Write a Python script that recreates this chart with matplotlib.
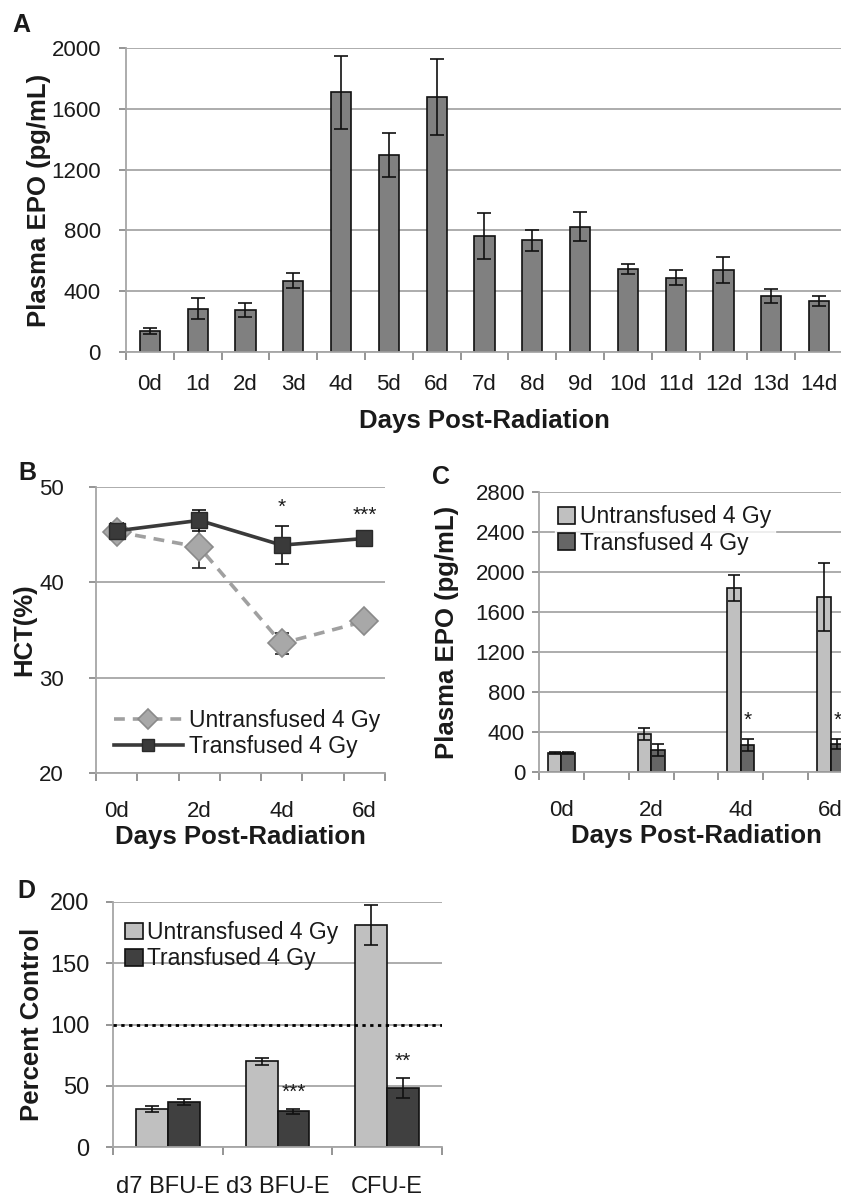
import numpy as np
import matplotlib
matplotlib.use("Agg")
import matplotlib.pyplot as plt
import matplotlib.transforms as mtransforms

plt.rcParams['font.family'] = ['Liberation Sans', 'DejaVu Sans']
plt.rcParams['text.color'] = '#1a1a1a'
plt.rcParams['axes.labelcolor'] = '#1a1a1a'
plt.rcParams['xtick.color'] = '#8c8c8c'
plt.rcParams['ytick.color'] = '#8c8c8c'
plt.rcParams['xtick.labelcolor'] = '#1a1a1a'
plt.rcParams['ytick.labelcolor'] = '#1a1a1a'

# ---- data ----
# A: plasma EPO over 14 days
days_a = ['0d', '1d', '2d', '3d', '4d', '5d', '6d', '7d', '8d', '9d',
          '10d', '11d', '12d', '13d', '14d']
epo_a = [140, 285, 275, 470, 1710, 1295, 1680, 765, 735, 825, 545, 490, 540, 370, 335]
epo_a_err = [20, 70, 45, 50, 240, 145, 250, 150, 70, 95, 35, 50, 85, 45, 35]

# B: hematocrit
days_b = [0, 2, 4, 6]
days_b_labels = ['0d', '2d', '4d', '6d']
hct_untrans = [45.3, 43.7, 33.6, 35.9]
hct_untrans_err = [0.3, 2.2, 1.1, 0.4]
hct_trans = [45.4, 46.5, 43.9, 44.6]
hct_trans_err = [0.8, 1.1, 2.0, 0.4]
hct_stars = {4: '*', 6: '***'}

# C: plasma EPO, transfused vs untransfused
days_c = [0, 2, 4, 6]
days_c_labels = ['0d', '2d', '4d', '6d']
epo_c_untrans = [190, 380, 1845, 1755]
epo_c_untrans_err = [8, 60, 130, 340]
epo_c_trans = [190, 225, 275, 285]
epo_c_trans_err = [8, 60, 60, 50]
epo_c_stars = {4: '*', 6: '*'}

# D: progenitor colonies
cats_d = ['d7 BFU-E', 'd3 BFU-E', 'CFU-E']
pct_untrans = [31, 70, 181]
pct_untrans_err = [2.5, 3, 16.5]
pct_trans = [36.5, 29, 48]
pct_trans_err = [2.5, 2, 8]
pct_stars = {1: '***', 2: '**'}

W, H = 841, 1197
fig = plt.figure(figsize=(W / 100, H / 100), dpi=100)

GRID = '#a6a6a6'
LIGHT = '#c0c0c0'
EBAR = dict(ecolor='#111111', elinewidth=1.2, capsize=5, capthick=1.2)


def px_axes(left, top, right, bottom):
    return fig.add_axes([left / W, 1 - bottom / H, (right - left) / W, (bottom - top) / H])


def style_axes(ax, nslots, xpad, ypad, fs):
    for s in ['top', 'right']:
        ax.spines[s].set_visible(False)
    for s in ['left', 'bottom']:
        ax.spines[s].set_color(GRID)
        ax.spines[s].set_linewidth(1.3)
    ax.yaxis.grid(True, color=GRID, linewidth=1.3)
    ax.set_axisbelow(True)
    ax.set_xlim(-0.5, nslots - 0.5)
    ax.set_xticks(np.arange(nslots + 1) - 0.5, minor=True)
    ax.tick_params(axis='x', which='minor', length=6, width=1.3, direction='out')
    ax.tick_params(axis='x', which='major', length=0, pad=xpad, labelsize=fs)
    ax.tick_params(axis='y', length=5, width=1.3, direction='out', pad=ypad, labelsize=fs)


def place_ylabel(ax, x_px):
    tr = mtransforms.blended_transform_factory(fig.transFigure, ax.transAxes)
    ax.yaxis.label.set_va('center')
    ax.yaxis.set_label_coords(x_px / W, 0.5, transform=tr)


# ---- panel A ----
axa = px_axes(126, 48, 843, 352)
xa = np.arange(len(days_a))
axa.bar(xa, epo_a, width=0.42, color='#808080', edgecolor='#111111', linewidth=1.2,
        yerr=epo_a_err, error_kw=EBAR, zorder=2)
style_axes(axa, len(days_a), xpad=16, ypad=13, fs=16)
axa.set_ylim(0, 2000)
axa.set_yticks([0, 400, 800, 1200, 1600, 2000])
axa.set_xticks(xa)
axa.set_xticklabels(days_a)
axa.set_xlabel('Days Post-Radiation', fontsize=18.5, fontweight='bold', labelpad=10)
axa.set_ylabel('Plasma EPO (pg/mL)', fontsize=18.5, fontweight='bold')
place_ylabel(axa, 39)

# ---- panel B ----
axb = px_axes(96, 487, 385, 773)
style_axes(axb, 7, xpad=20, ypad=18, fs=16)
axb.set_ylim(20, 50)
axb.set_yticks([20, 30, 40, 50])
axb.errorbar(days_b, hct_untrans, yerr=hct_untrans_err, fmt='none', ecolor='#222222',
             elinewidth=1.2, capsize=5, capthick=1.2, zorder=2)
axb.errorbar(days_b, hct_trans, yerr=hct_trans_err, fmt='none', ecolor='#111111',
             elinewidth=1.2, capsize=5, capthick=1.2, zorder=2)
axb.plot(days_b, hct_untrans, color='#a0a0a0', linestyle=(0, (3, 2.2)),
         linewidth=2.6, marker='D', markersize=14, markerfacecolor='#a8a8a8',
         markeredgecolor='#8a8a8a', markeredgewidth=1.2, label='Untransfused 4 Gy', zorder=3)
axb.plot(days_b, hct_trans, color='#3a3a3a', linestyle='-',
         linewidth=2.6, marker='s', markersize=11, markerfacecolor='#3a3a3a',
         markeredgecolor='#2a2a2a', label='Transfused 4 Gy', zorder=4)
for d, s in hct_stars.items():
    i = days_b.index(d)
    axb.text(d, hct_trans[i] + hct_trans_err[i] + 1.0, s, ha='center', va='bottom', fontsize=15)
axb.set_xticks(days_b)
axb.set_xticklabels(days_b_labels)
axb.set_xlabel('Days Post-Radiation', fontsize=18.5, fontweight='bold', labelpad=2)
axb.set_ylabel('HCT(%)', fontsize=18.5, fontweight='bold')
place_ylabel(axb, 24)
axb.legend(loc='lower left', bbox_to_anchor=(0.03, 0.02), frameon=False, fontsize=16.5,
           handlelength=3.0, handletextpad=0.3, labelspacing=0.15, borderaxespad=0,
           markerscale=0.75)

# ---- panel C ----
axc = px_axes(539, 492, 853, 772)
style_axes(axc, 7, xpad=20, ypad=5, fs=16)
axc.set_ylim(0, 2800)
axc.set_yticks(np.arange(0, 2801, 400))
w = 0.3
axc.bar(np.array(days_c) - w / 2, epo_c_untrans, width=w, color=LIGHT, edgecolor='#111111',
        linewidth=1.2, yerr=epo_c_untrans_err, error_kw=dict(EBAR, capsize=4),
        label='Untransfused 4 Gy', zorder=2)
axc.bar(np.array(days_c) + w / 2, epo_c_trans, width=w, color='#666666', edgecolor='#111111',
        linewidth=1.2, yerr=epo_c_trans_err, error_kw=dict(EBAR, capsize=4),
        label='Transfused 4 Gy', zorder=2)
for d, s in epo_c_stars.items():
    i = days_c.index(d)
    axc.text(d + w / 2, epo_c_trans[i] + epo_c_trans_err[i] + 90, s, ha='center', va='bottom',
             fontsize=15)
axc.set_xticks(days_c)
axc.set_xticklabels(days_c_labels)
axc.set_xlabel('Days Post-Radiation', fontsize=18.5, fontweight='bold', labelpad=2)
axc.set_ylabel('Plasma EPO (pg/mL)', fontsize=18.5, fontweight='bold')
place_ylabel(axc, 447)
legc = axc.legend(loc='upper left', bbox_to_anchor=(0.05, 0.965), frameon=True, fontsize=16.5,
                  handlelength=0.75, handleheight=0.75, handletextpad=0.2, labelspacing=0.15,
                  borderaxespad=0, borderpad=0.15, fancybox=False)
legc.get_frame().set_facecolor('white')
legc.get_frame().set_edgecolor('white')

# ---- panel D ----
axd = px_axes(113, 902, 442, 1147)
style_axes(axd, len(cats_d), xpad=21, ypad=12, fs=17)
axd.set_ylim(0, 200)
axd.set_yticks([0, 50, 100, 150, 200])
xd = np.arange(len(cats_d))
wd = 0.29
axd.bar(xd - wd / 2, pct_untrans, width=wd, color=LIGHT, edgecolor='#111111', linewidth=1.2,
        yerr=pct_untrans_err, error_kw=EBAR, label='Untransfused 4 Gy', zorder=2)
axd.bar(xd + wd / 2, pct_trans, width=wd, color='#404040', edgecolor='#111111', linewidth=1.2,
        yerr=pct_trans_err, error_kw=EBAR, label='Transfused 4 Gy', zorder=2)
axd.axhline(100, color='black', linewidth=2.0, linestyle=(0, (1.2, 1.6)), zorder=3)
for i, s in pct_stars.items():
    axd.text(xd[i] + wd / 2, pct_trans[i] + pct_trans_err[i] + 6, s, ha='center', va='bottom',
             fontsize=15)
axd.set_xticks(xd)
axd.set_xticklabels(cats_d)
axd.set_ylabel('Percent Control', fontsize=18.5, fontweight='bold')
place_ylabel(axd, 32)
legd = axd.legend(loc='upper left', bbox_to_anchor=(0.01, 0.96), frameon=False, fontsize=16.5,
                  handlelength=0.75, handleheight=0.75, handletextpad=0.2, labelspacing=0.15,
                  borderaxespad=0)

# ---- panel letters ----
for txt, x, y in [('A', 12, 32), ('B', 18, 480), ('C', 432, 484), ('D', 17, 898)]:
    fig.text(x / W, 1 - y / H, txt, fontsize=18, fontweight='bold', ha='left', va='baseline')

fig.savefig('out.png', dpi=100)
